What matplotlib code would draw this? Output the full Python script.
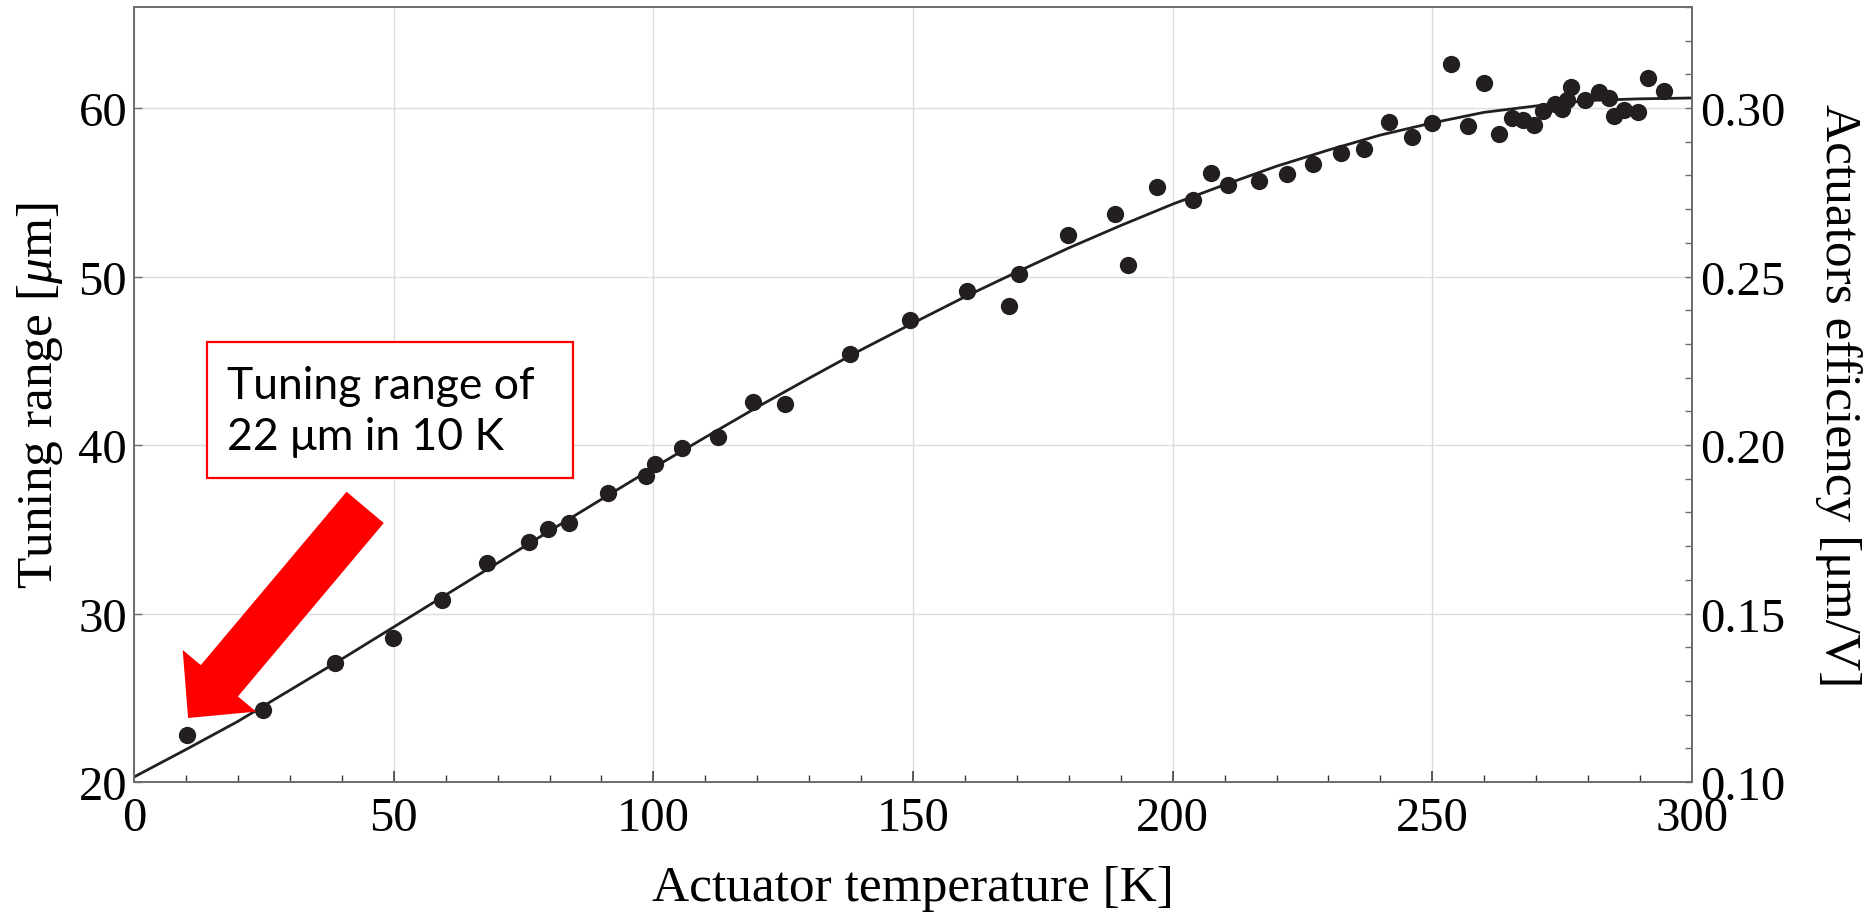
#!/usr/bin/env python3
"""Tuning range vs actuator temperature, with fitted curve and efficiency axis."""

import matplotlib

matplotlib.use("Agg")
import matplotlib.pyplot as plt
from matplotlib.patches import Rectangle
from matplotlib.ticker import MultipleLocator, FormatStrFormatter

plt.rcParams["font.family"] = ["Liberation Serif", "DejaVu Serif"]
plt.rcParams["mathtext.fontset"] = "custom"
plt.rcParams["mathtext.rm"] = "Liberation Serif"
plt.rcParams["mathtext.it"] = "Liberation Serif:italic"

# measured points (temperature in K, tuning range in um)
temp_k = [
    10.1, 24.9, 38.6, 49.8, 59.2, 67.9, 76.1, 79.8, 83.8, 91.3,
    98.5, 100.4, 105.6, 112.4, 119.1, 125.4, 137.8, 149.5, 160.4, 168.5,
    170.5, 179.9, 188.8, 191.4, 197.0, 204.0, 207.4, 210.7, 216.6, 222.0,
    227.0, 232.4, 236.9, 241.7, 246.0, 250.0, 253.6, 256.9, 260.0, 262.8,
    265.3, 267.5, 269.5, 271.4, 273.6, 274.9, 275.9, 276.8, 279.4, 282.0,
    284.0, 284.9, 287.0, 289.7, 291.5, 294.6,
]
tuning_um = [
    22.8, 24.3, 27.05, 28.55, 30.8, 33.0, 34.27, 35.02, 35.4, 37.14,
    38.19, 38.9, 39.8, 40.5, 42.55, 42.45, 45.4, 47.43, 49.14, 48.28,
    50.18, 52.44, 53.73, 50.66, 55.31, 54.54, 56.14, 55.41, 55.66, 56.08,
    56.66, 57.35, 57.6, 59.17, 58.28, 59.13, 62.6, 58.94, 61.49, 58.48,
    59.43, 59.31, 58.97, 59.8, 60.26, 59.96, 60.46, 61.25, 60.46, 60.96,
    60.6, 59.53, 59.9, 59.77, 61.79, 61.0,
]

# fitted curve
fit_temp_k = [0, 10, 20, 30, 40, 50, 60, 70, 80, 90, 100, 110, 120, 130, 140,
              150, 160, 170, 180, 190, 200, 210, 220, 230, 240, 250, 260, 270,
              280, 290, 300]
fit_tuning_um = [20.3, 21.93, 23.6, 25.45, 27.3, 29.2, 31.1, 33.0, 34.9, 36.78,
                 38.65, 40.46, 42.25, 43.97, 45.65, 47.24, 48.8, 50.27, 51.7,
                 53.03, 54.3, 55.45, 56.55, 57.51, 58.4, 59.12, 59.75, 60.13,
                 60.45, 60.55, 60.6]

x_ticks = [0, 50, 100, 150, 200, 250, 300]
y_ticks = [20, 30, 40, 50, 60]
eff_ticks = [0.10, 0.15, 0.20, 0.25, 0.30]

note_text = "Tuning range of\n22 \u03bcm in 10 K"

AXIS_COLOR = "#6e6e6e"
GRID_COLOR = "#dcdcdc"
DOT_COLOR = "#231f20"
LABEL_SIZE = 37

fig = plt.figure(figsize=(18.7, 9.2), dpi=100)
ax = fig.add_axes([0.0717, 0.1489, 0.8331, 0.8424])

ax.plot(fit_temp_k, fit_tuning_um, color=DOT_COLOR, linewidth=2.0,
        solid_joinstyle="round", zorder=3)
ax.scatter(temp_k, tuning_um, s=155, color=DOT_COLOR, linewidths=0, zorder=4)

ax.set_xlim(0, 300)
ax.set_ylim(20, 66)
ax.set_xticks(x_ticks)
ax.set_yticks(y_ticks)
ax.xaxis.set_minor_locator(MultipleLocator(10))
ax.grid(True, which="major", color=GRID_COLOR, linewidth=1.0, zorder=0)
ax.set_axisbelow(True)

for side in ("left", "right", "top", "bottom"):
    ax.spines[side].set_color(AXIS_COLOR)
    ax.spines[side].set_linewidth(1.3)

ax.tick_params(axis="x", which="major", direction="in", length=8, width=1.1,
               color="#333333", labelsize=35, pad=10)
ax.tick_params(axis="x", which="minor", direction="in", length=5, width=1.0,
               color="#333333")
ax.tick_params(axis="y", which="major", direction="in", length=6, width=1.0,
               color=AXIS_COLOR, labelsize=35, pad=5)

ax.set_xlabel("Actuator temperature [K]", fontsize=LABEL_SIZE, labelpad=18)
ax.set_ylabel("Tuning range [$\\mu$m]", fontsize=LABEL_SIZE, labelpad=9.5)

ax2 = ax.twinx()
ax2.set_ylim(0.10, 0.33)
ax2.set_yticks(eff_ticks)
ax2.yaxis.set_major_formatter(FormatStrFormatter("%.2f"))
ax2.yaxis.set_minor_locator(MultipleLocator(0.01))
ax2.tick_params(axis="y", which="both", direction="in", length=5, width=1.0,
                color=AXIS_COLOR, labelsize=35, pad=6)
ax2.set_ylabel("Actuators efficiency [\u03bcm/V]", fontsize=LABEL_SIZE,
               rotation=270, labelpad=55)
for side in ("left", "right", "top", "bottom"):
    ax2.spines[side].set_color(AXIS_COLOR)
    ax2.spines[side].set_linewidth(1.3)

# annotation box and arrow
box = Rectangle((0.0469, 0.3923), 0.2349, 0.1754, transform=ax.transAxes,
                facecolor="white", edgecolor="#ff0000", linewidth=1.6, zorder=6)
ax.add_patch(box)
ax.text(0.0597, 0.479, note_text, transform=ax.transAxes, fontsize=32,
        family=["Lato", "DejaVu Sans"], va="center", ha="left",
        linespacing=1.3, zorder=7)

ax.annotate(
    "",
    xy=(10.4, 23.8),
    xytext=(44.5, 36.3),
    xycoords="data",
    textcoords="data",
    arrowprops=dict(
        arrowstyle="simple,head_length=35,head_width=69,tail_width=35",
        mutation_scale=1,
        facecolor="#ff0000",
        edgecolor="none",
        linewidth=0,
        shrinkA=0,
        shrinkB=0,
    ),
    zorder=5,
)

fig.savefig("out.png", dpi=100)
